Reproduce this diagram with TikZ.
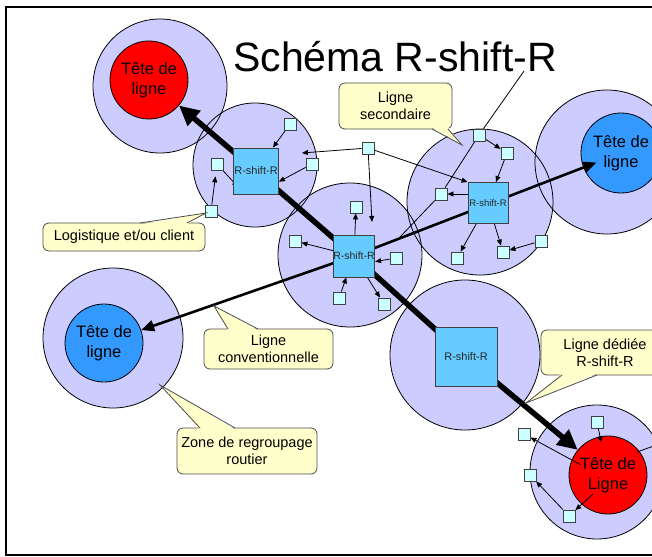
\documentclass[tikz,border=0pt]{standalone}
\usepackage{fontspec}
\setmainfont{Liberation Sans}
\usetikzlibrary{arrows.meta,calc}
\definecolor{zonec}{HTML}{CCCCFF}
\definecolor{redc}{HTML}{FF0000}
\definecolor{bluec}{HTML}{3399FF}
\definecolor{sqc}{HTML}{66CCFF}
\definecolor{smallc}{HTML}{CCFFFF}
\definecolor{callfill}{HTML}{FFFFCC}
\pgfdeclarelayer{zones}
\pgfdeclarelayer{lines}
\pgfsetlayers{zones,lines,main}
\begin{document}
\begin{tikzpicture}[x=1pt,y=-1pt,
  head/.style={circle, draw=black, line width=0.8pt, minimum size=78pt, inner sep=0pt, align=center, font=\fontsize{16.5}{20.5}\selectfont},
  rsr/.style={rectangle, draw=black!75, line width=0.8pt, fill=sqc, inner sep=0pt, text=black!85},
  small/.style={rectangle, draw=black!75, line width=0.8pt, fill=smallc, minimum size=12pt, inner sep=0pt},
  thinarr/.style={line width=0.8pt, -{Triangle[length=6pt,width=5pt]}},
  thinline/.style={line width=0.8pt},
  convarr/.style={line width=2.6pt, -{Triangle[length=13pt,width=11pt]}},
  thickline/.style={line width=5.5pt},
  thickarr/.style={line width=5.5pt, -{Triangle[length=20pt,width=19pt]}},
  callout/.style={rectangle, rounded corners=6pt, draw=black!70, line width=0.8pt, fill=callfill, align=center, inner sep=0pt, font=\fontsize{14.5}{16.5}\selectfont},
  tailline/.style={draw=black!70, line width=0.8pt}
]
\useasboundingbox (0,0) rectangle (652,556);

% ---------- zones and line heads ----------
\begin{pgfonlayer}{zones}
  \clip (0,0) rectangle (652,556);
  \foreach \x/\y/\r in {160/86/67, 255/165/62, 350/255/72, 480/202/73, 607/162/72, 113/338/70, 465/355/75, 597/472/67}
    \fill[zonec] (\x,\y) circle[radius=\r];
  \foreach \x/\y/\r in {160/86/67, 255/165/62, 350/255/72, 480/202/73, 607/162/72, 113/338/70, 465/355/75, 597/472/67}
    \draw[line width=0.8pt] (\x,\y) circle[radius=\r];
  \node[head, fill=redc] (red1) at (149,80) {Tête de\\ligne};
  \node[head, fill=bluec, minimum size=80pt] (blueR) at (621,153) {Tête de\\ligne};
  \node[head, fill=bluec] (blueL) at (104,343) {Tête de\\ligne};
  \node[head, fill=redc] (red2) at (608,475) {Tête de\\Ligne};
\end{pgfonlayer}

% ---------- title ----------
\node[font=\fontsize{41}{41}\selectfont, anchor=base, inner sep=0pt] (title) at (395,72) {Schéma R-shift-R};

% ---------- R-shift-R squares ----------
\node[rsr, minimum width=45pt, minimum height=46pt, font=\fontsize{11}{11}\selectfont] (sq1) at (256,171) {R-shift-R};
\node[rsr, minimum width=39pt, minimum height=42pt, font=\fontsize{10.5}{10.5}\selectfont] (sq2) at (354,256) {R-shift-R};
\node[rsr, minimum width=40pt, minimum height=41pt, font=\fontsize{9.5}{9.5}\selectfont] (sq3) at (488,203) {R-shift-R};
\node[rsr, minimum width=62pt, minimum height=59pt, font=\fontsize{11}{11}\selectfont] (sq4) at (466,357) {R-shift-R};

% ---------- small squares ----------
\node[small] (a1) at (290,124) {};
\node[small] (a2) at (312,164) {};
\node[small] (a3) at (217,164) {};
\node[small] (a4) at (211,211) {};
\node[small] (s1) at (368,148) {};
\node[small] (b1) at (479,135) {};
\node[small] (b2) at (507,153) {};
\node[small] (b3) at (441,194) {};
\node[small] (b4) at (457,258) {};
\node[small] (b5) at (503,252) {};
\node[small] (b6) at (541,241) {};
\node[small] (c1) at (356,207) {};
\node[small] (c2) at (295,241) {};
\node[small] (c3) at (396,258) {};
\node[small] (c4) at (339,298) {};
\node[small] (c5) at (384,304) {};
\node[small] (d1) at (597,422) {};
\node[small] (d2) at (524,434) {};
\node[small] (d3) at (530,475) {};
\node[small] (d4) at (569,516) {};

% free ends
\coordinate (s1L) at (302,153);
\coordinate (s1D) at (372,222);
\coordinate (b1T) at (524,71);
\coordinate (b3E) at (400,237);
\coordinate (redOut) at (662,443);

% ---------- connectors ----------
\begin{pgfonlayer}{lines}
  \clip (0,0) rectangle (652,556);
  % dedicated R-shift-R line
  \draw[thickarr] (sq1.center) -- (red1);
  \draw[thickline] (sq1.center) -- (sq2.center);
  \draw[thickline] (sq2.center) -- (sq4.center);
  \draw[thickarr] (sq4.center) -- (red2);
  % conventional line
  \draw[convarr] (sq2.center) -- (blueL);
  \draw[convarr, shorten >=-14pt] (sq2.center) -- (blueR);
  % zone 1
  \draw[thinarr] (a1) -- (sq1);
  \draw[thinarr] (a2) -- (sq1.-25);
  \draw[thinarr] (a3) -- ([shift={(-18,16)}]sq1.center);
  \draw[thinarr, shorten >=6pt] (a4) -- (a3);
  % secondary line
  \draw[thinarr] (s1) -- (s1L);
  \draw[thinarr] (s1) -- (s1D);
  \draw[thinarr] (s1) -- (sq3.north west);
  % zone 3
  \draw[thinline] (b1) -- (b1T);
  \draw[thinarr] (b1) -- (b2);
  \draw[thinarr] (b2) -- (sq3);
  \draw[thinline] (b1) -- (b3);
  \draw[thinline] (b3) -- (b3E);
  \draw[thinarr] (sq3.west |- b3) -- (b3);
  \draw[thinarr] (sq3) -- (b4);
  \draw[thinarr] (sq3) -- (b5);
  \draw[thinarr] (b6) -- (b5);
  % zone 2
  \draw[thinarr] (sq2) -- (c1);
  \draw[thinarr] (sq2) -- (c2);
  \draw[thinarr] (c3) -- (sq2.-15);
  \draw[thinarr] (c4) -- (sq2);
  \draw[thinarr] (sq2) -- (c5);
  % bottom-right zone
  \draw[thinarr, shorten >=-6pt] (d1) -- (red2);
  \draw[thinarr] ([shift={(-27,-10)}]red2.center) -- (d2);
  \draw[thinarr] ([shift={(-15,19)}]red2.center) -- (d4);
  \draw[thinarr] (d4) -- (d3);
  \draw[thinline] ([shift={(29,-23)}]red2.center) -- (redOut);
\end{pgfonlayer}

% ---------- callouts ----------
\node[callout, minimum width=162pt, minimum height=28pt] (logi) at (124,237) {Logistique et/ou client};
\fill[callfill] (140,224.6) -- (206,213) -- (187,224.6) -- cycle;
\draw[tailline] (140,223) -- (206,213) -- (187,223);

\node[callout, minimum width=113pt, minimum height=46pt] (sec) at (395.5,106) {Ligne\\secondaire};
\fill[callfill] (432,127.4) -- (462,145) -- (448,127.4) -- cycle;
\draw[tailline] (432,129) -- (462,145) -- (448,129);

\node[callout, minimum width=129pt, minimum height=40pt] (conv) at (268.5,349) {Ligne\\conventionnelle};
\fill[callfill] (228,330.6) -- (214,306) -- (258,330.6) -- cycle;
\draw[tailline] (228,329) -- (214,306) -- (258,329);

\node[callout, minimum width=140pt, minimum height=46pt] (zone) at (247,451) {Zone de regroupage\\routier};
\fill[callfill] (200,429.6) -- (160,385) -- (235,429.6) -- cycle;
\draw[tailline] (200,428) -- (160,385) -- (235,428);

\node[callout, minimum width=128pt, minimum height=45pt] (ded) at (605,352.5) {Ligne dédiée\\R-shift-R};
\fill[callfill] (562,373.4) -- (526,403) -- (597,373.4) -- cycle;
\draw[tailline] (562,375) -- (526,403) -- (597,375);

% ---------- frame ----------
\draw[line width=2pt] (662,7) -- (6,7) -- (6,555) -- (662,555);
\end{tikzpicture}
\end{document}
